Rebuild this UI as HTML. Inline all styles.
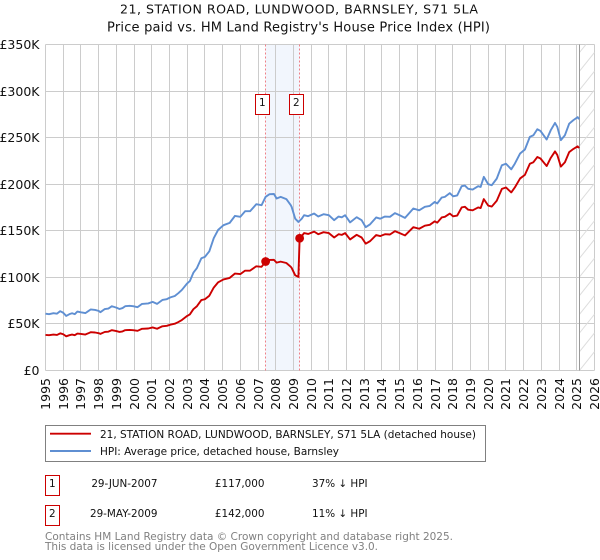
<!DOCTYPE html>
<html>
<head>
<meta charset="utf-8">
<style>
html,body{margin:0;padding:0;background:#fff;width:600px;height:560px;overflow:hidden}
svg{display:block}
text{font-family:"DejaVu Sans","Liberation Sans",sans-serif;fill:#111}
</style>
</head>
<body>
<svg id="chart" xmlns="http://www.w3.org/2000/svg" width="600" height="560" viewBox="0 0 600 560">
  <text x="120" y="13.5" font-size="12.6" textLength="358" lengthAdjust="spacing">21, STATION ROAD, LUNDWOOD, BARNSLEY, S71 5LA</text>
  <text x="107" y="31.5" font-size="13" textLength="383" lengthAdjust="spacing">Price paid vs. HM Land Registry's House Price Index (HPI)</text>
  <g id="shade-layer"></g>
  <g id="grid-layer"></g>
  <g id="hatch-layer"></g>
  <g id="series-layer"></g>
  <g id="label-layer"></g>

  <g>
    <rect x="45.5" y="425.5" width="440" height="36" fill="#fff" stroke="#808080" stroke-width="1"/>
    <line x1="50" y1="433.7" x2="91" y2="433.7" stroke="#cc0000" stroke-width="1.9"/>
    <text x="100" y="438" font-size="10.5" textLength="376" lengthAdjust="spacing">21, STATION ROAD, LUNDWOOD, BARNSLEY, S71 5LA (detached house)</text>
    <line x1="50" y1="451" x2="91" y2="451" stroke="#5f8fd2" stroke-width="1.9"/>
    <text x="100" y="455" font-size="10.5" textLength="239" lengthAdjust="spacing">HPI: Average price, detached house, Barnsley</text>
  </g>

  <g>
    <rect x="45.5" y="475.5" width="14" height="20" fill="#fff" stroke="#cc0000" stroke-width="1"/>
    <text x="52.3" y="487" text-anchor="middle" font-size="10.4">1</text>
    <text x="157.5" y="487" text-anchor="end" font-size="10.4">29-JUN-2007</text>
    <text x="264.5" y="487" text-anchor="end" font-size="10.4">£117,000</text>
    <text x="312" y="487" font-size="10.4">37% ↓ HPI</text>
  </g>
  <g>
    <rect x="45.5" y="505.5" width="14" height="20" fill="#fff" stroke="#cc0000" stroke-width="1"/>
    <text x="52.3" y="517" text-anchor="middle" font-size="10.4">2</text>
    <text x="157.5" y="517" text-anchor="end" font-size="10.4">29-MAY-2009</text>
    <text x="264.5" y="517" text-anchor="end" font-size="10.4">£142,000</text>
    <text x="312" y="517" font-size="10.4">11% ↓ HPI</text>
  </g>
  <text x="45" y="540" font-size="10.5" textLength="408" lengthAdjust="spacing" style="fill:#808080">Contains HM Land Registry data © Crown copyright and database right 2025.</text>
  <text x="45" y="550" font-size="10.5" textLength="333" lengthAdjust="spacing" style="fill:#808080">This data is licensed under the Open Government Licence v3.0.</text>
</svg>
<script>
const yearTicks = [1995,1996,1997,1998,1999,2000,2001,2002,2003,2004,2005,2006,2007,2008,2009,2010,2011,2012,2013,2014,2015,2016,2017,2018,2019,2020,2021,2022,2023,2024,2025,2026];
const valueTicks = [0,50,100,150,200,250,300,350];
const valueTickLabels = ['£0','£50K','£100K','£150K','£200K','£250K','£300K','£350K'];
const hpiYears = [1995,1995.2,1995.45,1995.65,1995.83,1996,1996.17,1996.35,1996.5,1996.65,1996.8,1997,1997.25,1997.4,1997.55,1997.8,1998,1998.1,1998.35,1998.55,1998.75,1999,1999.18,1999.35,1999.5,1999.75,1999.95,2000.2,2000.45,2000.8,2001.05,2001.3,2001.6,2001.85,2002.05,2002.3,2002.5,2002.7,2003,2003.15,2003.35,2003.55,2003.8,2004,2004.25,2004.5,2004.75,2005.05,2005.4,2005.7,2006,2006.27,2006.55,2006.9,2007.2,2007.43,2007.65,2007.9,2008.05,2008.28,2008.6,2008.85,2008.9,2009.1,2009.28,2009.47,2009.6,2009.83,2010.17,2010.4,2010.7,2011,2011.3,2011.55,2011.73,2011.92,2012.2,2012.57,2012.85,2013.08,2013.33,2013.67,2013.9,2014.17,2014.45,2014.73,2015,2015.3,2015.77,2016.1,2016.42,2016.7,2016.98,2017.12,2017.37,2017.55,2017.83,2018.02,2018.25,2018.5,2018.68,2018.87,2019.12,2019.43,2019.57,2019.75,2020,2020.2,2020.48,2020.77,2021,2021.3,2021.5,2021.8,2022.07,2022.35,2022.55,2022.77,2022.95,2023.3,2023.53,2023.77,2023.9,2024.1,2024.33,2024.57,2024.8,2025.05,2025.13];
const hpiValues = [61,60.5,61.5,61,63.7,62,58.6,60.5,61.5,60.5,63.3,62.5,61.6,63.5,65.5,65,64,62.6,66,66.5,69,67.5,66,67,69,69.5,69,68,71.5,72,73.7,71.5,75.7,76.6,78.5,80,83,86.5,93.5,96,105,110,120.5,122,128,142,151,156,158.5,166,165,171,171,178.5,177.5,186.5,189.3,189.5,184.7,186.4,184,177.5,175.6,163,159.5,163,166.7,165.7,168.5,165.3,167.8,166.7,161.4,165.3,164.5,166.7,159,164.6,161.4,153.9,157,164.3,163,165.3,165,169,166.7,163.8,173.9,172,175.7,176.7,181,179.3,185.7,186.4,190.4,187,188,197.9,198.6,195,194.3,197.9,197.1,207.9,200,198.9,206,220.4,222,216,222,233,237.3,250.8,252.6,259,257.2,248,258,265.8,261.5,247.3,252.6,265,268.7,272,269.8];
const paidYears = [1995,1995.2,1995.45,1995.65,1995.83,1996,1996.17,1996.35,1996.5,1996.65,1996.8,1997,1997.25,1997.4,1997.55,1997.8,1998,1998.1,1998.35,1998.55,1998.75,1999,1999.18,1999.35,1999.5,1999.75,1999.95,2000.2,2000.45,2000.8,2001.05,2001.3,2001.6,2001.85,2002.05,2002.3,2002.5,2002.7,2003,2003.15,2003.35,2003.55,2003.8,2004,2004.25,2004.5,2004.75,2005.05,2005.4,2005.7,2006,2006.27,2006.55,2006.9,2007.2,2007.43,2007.65,2007.9,2008.05,2008.28,2008.6,2008.85,2008.9,2009.1,2009.28,2009.35,2009.47,2009.6,2009.83,2010.17,2010.4,2010.7,2011,2011.3,2011.55,2011.73,2011.92,2012.2,2012.57,2012.85,2013.08,2013.33,2013.67,2013.9,2014.17,2014.45,2014.73,2015,2015.3,2015.77,2016.1,2016.42,2016.7,2016.98,2017.12,2017.37,2017.55,2017.83,2018.02,2018.25,2018.5,2018.68,2018.87,2019.12,2019.43,2019.57,2019.75,2020,2020.2,2020.48,2020.77,2021,2021.3,2021.5,2021.8,2022.07,2022.35,2022.55,2022.77,2022.95,2023.3,2023.53,2023.77,2023.9,2024.1,2024.33,2024.57,2024.8,2025.05,2025.13];
const paidValues = [38.2,37.9,38.6,38.2,39.9,38.9,36.7,37.9,38.6,37.9,39.7,39.2,38.6,39.8,41.1,40.8,40.1,39.3,41.4,41.7,43.3,42.3,41.4,42,43.3,43.6,43.3,42.6,44.8,45.1,46.2,44.8,47.5,48,49.2,50.2,52,54.2,58.6,60.2,65.8,69,75.6,76.5,80.3,89,94.7,97.8,99.4,104.1,103.5,107.2,107.2,111.9,111.3,117,118.7,118.8,115.8,116.9,115.4,111.3,110.1,102.2,100.5,142,144.3,147.5,146.6,149.1,146.3,148.5,147.5,142.8,146.3,145.6,147.5,140.7,145.7,142.8,136.2,138.9,145.4,144.3,146.3,146,149.6,147.5,145,153.9,152.2,155.5,156.4,160.2,158.7,164.3,165,168.5,165.5,166.4,175.1,175.8,172.6,172,175.1,174.4,184,177,176,182.3,195,196.5,191.2,196.5,206.2,210,222,223.6,229.2,227.6,219.5,228.3,235.2,231.4,218.9,223.6,234.5,237.8,240.7,238.8];
const saleYears = [2007.43,2009.35];
const saleValues = [117,142];
const saleLabels = ['1','2'];
const dataEndYear = 2025.13;

const NS = 'http://www.w3.org/2000/svg';
const xMin = 1995, xMax = 2026, vMax = 350;
const left = 45.5, right = 594.5, top_ = 44.5, bottom = 370.5;
function xScale(y){ return left + (y - xMin) * (right - left) / (xMax - xMin); }
function yScale(v){ return bottom - v * (bottom - top_) / vMax; }
function crisp(p){ return Math.floor(p) + 0.5; }
function make(tag, attrs, parent){
  const el = document.createElementNS(NS, tag);
  Object.keys(attrs).forEach(function(k){ el.setAttribute(k, attrs[k]); });
  parent.appendChild(el);
  return el;
}
const shadeLayer = document.getElementById('shade-layer');
const gridLayer = document.getElementById('grid-layer');
const hatchLayer = document.getElementById('hatch-layer');
const seriesLayer = document.getElementById('series-layer');
const labelLayer = document.getElementById('label-layer');

const band = make('rect', {x:xScale(saleYears[0]), y:top_, width:xScale(saleYears[1])-xScale(saleYears[0]), height:bottom-top_, fill:'#f2f6fd'}, shadeLayer);



yearTicks.forEach(function(y){
  const px = y === xMax ? crisp(xScale(y) - 0.5) : crisp(xScale(y));
  const g = make('line', {x1:px, x2:px, y1:top_, y2:bottom, stroke:'#cccccc', 'stroke-width':1}, gridLayer);
  
  
  const t = make('text', {transform:'translate(' + (px + 4.5) + ',378) rotate(-90)', 'text-anchor':'end', 'font-size':'12.5'}, labelLayer);
  t.textContent = String(y);
  
  
});
valueTicks.forEach(function(v, i){
  const py = crisp(yScale(v));
  const g = make('line', {x1:left, x2:right, y1:py, y2:py, stroke:'#cccccc', 'stroke-width':1}, gridLayer);
  
  
  const t = make('text', {x:39.5, y:py + 4.5, 'text-anchor':'end', 'font-size':'12.5'}, labelLayer);
  t.textContent = valueTickLabels[i];
  
  
});

const endX = crisp(xScale(dataEndYear));
const clip = make('clipPath', {id:'hatch-clip'}, hatchLayer);
make('rect', {x:endX, y:top_, width:right-endX, height:bottom-top_}, clip);
const hatchGroup = make('g', {'clip-path':'url(#hatch-clip)'}, hatchLayer);
for (let k = 0; k < 20; k++) {
  const base = top_ + k * 18.7 + 8;
  const h = make('line', {x1:endX, y1:base, x2:right, y2:base - (right - endX) * 1.25, stroke:'#dddddd', 'stroke-width':1}, hatchGroup);
  
  
}
const endLine = make('line', {x1:endX, x2:endX, y1:top_, y2:bottom, stroke:'#999999', 'stroke-width':1}, hatchLayer);



saleYears.forEach(function(y){
  const px = crisp(xScale(y));
  const d = make('line', {x1:px, x2:px, y1:top_, y2:bottom, stroke:'#ee8088', 'stroke-width':1, 'stroke-dasharray':'2 2'}, seriesLayer);
  
  
});

function pathFor(xs, vs){
  return xs.map(function(y, i){ return (i ? 'L' : 'M') + xScale(y).toFixed(2) + ' ' + yScale(vs[i]).toFixed(2); }).join(' ');
}
const hpiLine = make('path', {d:pathFor(hpiYears, hpiValues), fill:'none', stroke:'#5f8fd2', 'stroke-width':1.9, 'stroke-linejoin':'round'}, seriesLayer);


const paidLine = make('path', {d:pathFor(paidYears, paidValues), fill:'none', stroke:'#cc0000', 'stroke-width':1.9, 'stroke-linejoin':'round'}, seriesLayer);



saleYears.forEach(function(y, i){
  const px = xScale(y);
  const dot = make('circle', {cx:px, cy:yScale(saleValues[i]), r:4.4, fill:'#cc0000'}, seriesLayer);
  
  
  const box = make('rect', {x:crisp(px) - 10, y:94.5, width:14, height:20, fill:'#fff', stroke:'#cc0000', 'stroke-width':1}, seriesLayer);
  
  
  const lab = make('text', {x:crisp(px) - 3.2, y:106, 'text-anchor':'middle', 'font-size':'10.4'}, seriesLayer);
  lab.textContent = saleLabels[i];
  
  
});
</script>
</body>
</html>
